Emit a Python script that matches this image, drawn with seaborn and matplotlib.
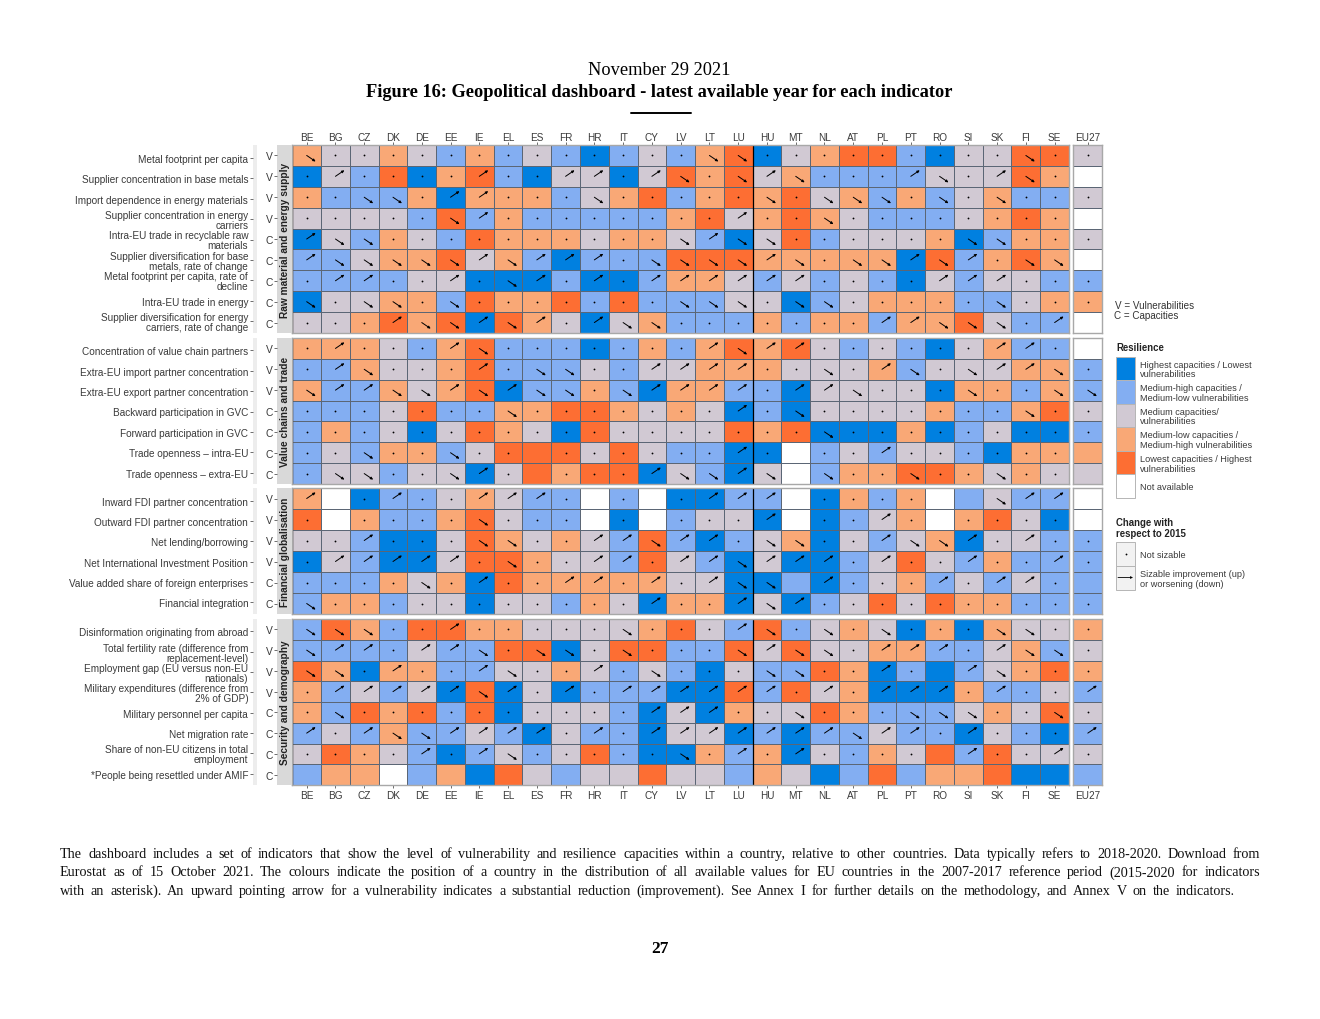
import pandas as pd
import matplotlib
matplotlib.use("Agg")
import matplotlib.pyplot as plt
from matplotlib.colors import ListedColormap
from matplotlib.patches import Rectangle
import seaborn as sns

W, H = 1320, 1020

countries = ["BE", "BG", "CZ", "DK", "DE", "EE", "IE", "EL", "ES", "FR", "HR", "IT", "CY", "LV",
             "LT", "LU", "HU", "MT", "NL", "AT", "PL", "PT", "RO", "SI", "SK", "FI", "SE", "EU27"]

# 0 not available, 1 dark blue ... 5 orange
# arrows: u up, d down, . not sizable, _ nothing drawn
raw_labels = ["Metal footprint per capita", "Supplier concentration in base metals",
              "Import dependence in energy materials", "Supplier concentration in energy\ncarriers",
              "Intra-EU trade in recyclable raw\nmaterials", "Supplier diversification for base\nmetals, rate of change",
              "Metal footprint per capita, rate of\ndecline", "Intra-EU trade in energy",
              "Supplier diversification for energy\ncarriers, rate of change"]
raw_types = ["V", "V", "V", "V", "C", "C", "C", "C", "C"]
raw_values = ["43343242321232 4513455213355 3",
              "13251452133135 4534222233354 0",
              "42224144423452 4545342423422 3",
              "33332524222224 5345432223454 0",
              "13243254443443 2135233341244 3",
              "22344534212225 5544444152454 0",
              "22223311121124 4323232132332 2",
              "13344254452522 2331234442234 4",
              "33454515431342 2242442445322 0"]
raw_arrows = ["d............. dd.........d. .",
              ".u....u..uu.ud .dud...ud.ud. _",
              "..dd.uu...d... ..d.ddd.d.d.. .",
              ".....du....... .u..d........ _",
              "udd..........d udd......dd.. .",
              "uddddduduuu.dd ddud.ddudu.dd _",
              ".uu..u.du.u.uu uuuu....uuu.. .",
              "d.dd.d.......d dd.dd.....d.. .",
              "...uddudu.udd. ......uuddd.u _"]

chain_labels = ["Concentration of value chain partners", "Extra-EU import partner concentration",
                "Extra-EU export partner concentration", "Backward participation in GVC",
                "Forward participation in GVC", "Trade openness \u2013 intra-EU", "Trade openness \u2013 extra-EU"]
chain_types = ["V", "V", "V", "C", "C", "C", "C"]
chain_values = ["44432452221242 4545323213422 0",
                "22433452223233 4443334233344 2",
                "42243451224214 4221333314424 2",
                "22235224455434 3121333342245 3",
                "24231354315333 3545111412311 2",
                "23244235553532 2110232332144 4",
                "23323313545513 2130244554343 3"]
chain_arrows = [".u...ud....... uduu......uu. _",
                ".ud...u.dd..uu uu..d.ud.duud .",
                "duuddududd.duu uu.uud...d..d d",
                ".......d...... .u.d.......d. .",
                ".............. ....d........ .",
                "..d..d.._..... .u._..u...... _",
                ".dd..du._...ud dud_d..d..d.. _"]

fin_labels = ["Inward FDI partner concentration", "Outward FDI partner concentration", "Net lending/borrowing",
              "Net International Investment Position", "Value added share of foreign enterprises",
              "Financial integration"]
fin_types = ["V", "V", "V", "V", "C", "C"]
fin_values = ["40122343220201 1220142402322 0",
              "50422453220102 3310123404531 0",
              "33211354343252 1234132341332 2",
              "13211355433253 2131123532422 2",
              "22243415444443 3112123423232 2",
              "24423313324314 4131235354422 2"]
fin_arrows = ["u_.u..uuu._._. uuu_....__duu _",
              "._....d..._._. ..u_..u._.... _",
              "..u...dd..uudu u.dd..uddu.u. .",
              ".uuuuu.d..uu.u uduuu.u..u..u .",
              "....d.u..uu.u. udd_u...u.uu. _",
              "d...........u. .udu......... ."]

sec_labels = ["Disinformation originating from abroad", "Total fertility rate (difference from\nreplacement-level)",
              "Employment gap (EU versus non-EU\nnationals)", "Military expenditures (difference from\n2% of GDP)",
              "Military personnel per capita", "Net migration rate", "Share of non-EU citizens in total\nemployment",
              "*People being resettled under AMIF"]
sec_types = ["V", "V", "V", "V", "C", "C", "C", "C"]
sec_values = ["25425544333345 3252343141433 4",
              "22223225513552 2535334422342 3",
              "54144223343232 1322541212345 4",
              "42323151312221 1525341114223 2",
              "42545251333213 1433542223435 3",
              "23242232132213 3121223221321 2",
              "35432123235211 4241324352533 3",
              "24402415323353 3243125244511 2"]
sec_arrows = ["ddd..u.....d.. .ud.d.d...dd. .",
              "duu.uud.dd.d.. .dudd.uuu.udd .",
              "dd.u..ud..u.d. ..dd..u._ud.. .",
              ".uuuuudu.u.uuu uuu.u.uuu.u.. u",
              ".d..........uu u..d...ddd..d .",
              "u.udduuuu.u.uu uuuuuduu.u... u",
              "....u.ud.....d .u.u...._u..u .",
              "______________ _____________ _"]

resilience_colors = ["#FFFFFF", "#0080E0", "#83AEF2", "#D1C9D3", "#F9A876", "#FD6E33"]
legend_labels = ["Highest capacities / Lowest\nvulnerabilities", "Medium-high capacities /\nMedium-low vulnerabilities",
                 "Medium capacities/\nvulnerabilities", "Medium-low capacities /\nMedium-high vulnerabilities",
                 "Lowest capacities / Highest\nvulnerabilities", "Not available"]

panels = [("Raw material and energy supply", raw_labels, raw_types, raw_values, raw_arrows, 146, 334),
          ("Value chains and trade", chain_labels, chain_types, chain_values, chain_arrows, 339, 485),
          ("Financial globalisation", fin_labels, fin_types, fin_values, fin_arrows, 489, 615),
          ("Security and demography", sec_labels, sec_types, sec_values, sec_arrows, 620, 786)]

sans = "Liberation Sans"
serif = "Liberation Serif"
tick_color = "#3a3a3a"
cmap = ListedColormap(resilience_colors)
label_step = 20.35  # the indicator names sit slightly tighter than the rows


def box(x0, y0, x1, y1):
    # pixel box, top-left origin, to figure fractions
    return [x0 / W, 1 - y1 / H, (x1 - x0) / W, (y1 - y0) / H]


def draw_arrows(ax, arrows):
    for r, row in enumerate(arrows):
        for c, a in enumerate(row):
            cx, cy = c + 0.5, r + 0.5
            if a == ".":
                ax.plot(cx, cy, "o", ms=1.3, mew=0, color="black")
            elif a in "ud":
                dy = -0.29 if a == "u" else 0.29
                ax.annotate("", xy=(cx + 0.31, cy + dy), xytext=(cx, cy),
                            arrowprops=dict(arrowstyle="-|>", lw=0.7, color="black",
                                            mutation_scale=3.5, shrinkA=0, shrinkB=0))


def heat(ax, values, arrows, labels):
    df = pd.DataFrame(values, columns=labels).astype(int)
    sns.heatmap(df, ax=ax, cmap=cmap, vmin=-0.5, vmax=5.5, cbar=False, linewidths=0.6,
                linecolor="#5b6675", xticklabels=False, yticklabels=False)
    for s in ax.spines.values():
        s.set_visible(True)
        s.set_color("#a8a8a8")
        s.set_linewidth(1.0)
    draw_arrows(ax, arrows)


sns.set_theme(style="white")
plt.rcParams["font.family"] = sans
fig = plt.figure(figsize=(W / 100, H / 100), dpi=100)

x0, x1 = 292.3, 1069
eu0, eu1 = 1073.3, 1102.3

for i, (name, labels, types, values, arrows, top, bottom) in enumerate(panels):
    vals = [list(v.replace(" ", "")) for v in values]
    arrs = [list(a.replace(" ", "")) for a in arrows]
    nrow = len(types)

    ax = fig.add_axes(box(x0, top, x1, bottom))
    heat(ax, [v[:27] for v in vals], [a[:27] for a in arrs], countries[:27])
    ax.axvline(0, color="black", lw=1.0)
    ax.axvline(16, color="black", lw=0.9)

    ax_eu = fig.add_axes(box(eu0, top, eu1, bottom))
    heat(ax_eu, [v[27:] for v in vals], [a[27:] for a in arrs], countries[27:])

    for a, names in ((ax, countries[:27]), (ax_eu, countries[27:])):
        if i == 0 or i == len(panels) - 1:
            a.set_xticks([k + 0.5 for k in range(len(names))])
            a.set_xticklabels(names, rotation=0)
            a.tick_params(axis="x", length=2, width=0.6, pad=-0.2 if i == 0 else 1.3, labelsize=7.2,
                          labelcolor=tick_color, bottom=i > 0, labelbottom=i > 0, top=i == 0, labeltop=i == 0,
                          color="#555555")

    # grey strip with the pillar name and the V / C ticks
    strip = fig.add_axes(box(277, top, x0, bottom))
    strip.set_facecolor("#D9D9D9")
    strip.set_xticks([])
    strip.set_ylim(nrow, 0)
    strip.set_yticks([k + 0.5 for k in range(nrow)])
    strip.set_yticklabels(types, fontsize=7.4, color=tick_color)
    strip.tick_params(axis="y", length=2.5, width=0.6, pad=0.5, left=True, color="#555555")
    for s in strip.spines.values():
        s.set_visible(False)
    strip.text(0.5, 0.5, name, transform=strip.transAxes, rotation=90, ha="center", va="center",
               fontsize=7.3, fontweight="bold", color="#222222")

    # thin light band carrying the indicator names, scaled in pixels
    band = fig.add_axes(box(253, top, 257, bottom))
    band.set_facecolor("#EDEDED")
    band.set_xticks([])
    band.set_ylim(bottom, top)
    mid = (top + bottom) / 2 + 0.5
    band.set_yticks([mid + (k - (nrow - 1) / 2) * label_step for k in range(nrow)])
    band.set_yticklabels(labels, fontsize=7.2, color=tick_color, linespacing=1.0, ha="right")
    band.tick_params(axis="y", length=2.5, width=0.6, pad=1.0, left=True, color="#555555")
    for s in band.spines.values():
        s.set_visible(False)

# page level text and legend, in pixel coordinates
page = fig.add_axes([0, 0, 1, 1], zorder=-1)
page.set_xlim(0, W)
page.set_ylim(H, 0)
page.axis("off")

page.text(659, 70.5, "November 29 2021", ha="center", va="center", family=serif, fontsize=13.2, color="black")
page.text(659, 92.5, "Figure 16: Geopolitical dashboard - latest available year for each indicator", ha="center",
          va="center", family=serif, fontsize=13.2, fontweight="bold", color="black")
page.plot([631, 691], [114, 114], color="black", lw=1.4)
page.text(660, 949.5, "27", ha="center", va="center", family=serif, fontsize=12.5, fontweight="bold", color="black")

# resilience legend
small = dict(ha="left", va="center", fontsize=6.55, color="#3a3a3a", linespacing=1.1)
page.text(1115, 306, "V = Vulnerabilities", ha="left", va="center", fontsize=7.1, color="#333333")
page.text(1114, 316.5, "C = Capacities", ha="left", va="center", fontsize=7.1, color="#333333")
page.text(1116, 348.5, "Resilience", ha="left", va="center", fontsize=6.9, fontweight="bold", color="#222222")
key_h = (499 - 357.7) / 6
for k, lab in enumerate(legend_labels):
    y = 357.7 + k * key_h
    colour = resilience_colors[(k + 1) % 6]
    page.add_patch(Rectangle((1116, y), 19, key_h, facecolor=colour, edgecolor="#b5b5b5", lw=0.7))
    page.text(1140, y + key_h / 2 + 0.5, lab, **small)

page.text(1116, 528.5, "Change with\nrespect to 2015", ha="left", va="center", fontsize=6.9, fontweight="bold",
          color="#222222", linespacing=1.1)
for k, lab in enumerate(["Not sizable", "Sizable improvement (up)\nor worsening (down)"]):
    y = 543 + k * 23.8
    page.add_patch(Rectangle((1116, y), 19, 23.8, facecolor="#F2F2F2", edgecolor="#b5b5b5", lw=0.7))
    page.text(1140, y + 12.4, lab, **small)
page.plot(1125.5, 555, "o", ms=1.3, mew=0, color="black")
page.annotate("", xy=(1133, 578.5), xytext=(1118, 578.5),
              arrowprops=dict(arrowstyle="-|>", lw=0.6, color="black", mutation_scale=3, shrinkA=0, shrinkB=0))

# justified footnote
note_lines = ["The dashboard includes a set of indicators that show the level of vulnerability and resilience capacities within a country, relative to other countries. Data typically refers to 2018-2020. Download from",
              "Eurostat as of 15 October 2021. The colours indicate the position of a country in the distribution of all available values for EU countries in the 2007-2017 reference period (2015-2020 for indicators",
              "with an asterisk). An upward pointing arrow for a vulnerability indicates a substantial reduction (improvement). See Annex I for further details on the methodology, and Annex V on the indicators."]
note_ends = [1260, 1260, 1235]
note_y = [854.5, 873, 891.5]
renderer = fig.canvas.get_renderer()
for line, end, y in zip(note_lines, note_ends, note_y):
    words = []
    used = 0
    for w in line.split(" "):
        t = page.text(0, y, w, ha="left", va="center", family=serif, fontsize=10.2, color="#111111")
        wid = t.get_window_extent(renderer).width
        words.append((t, wid))
        used += wid
    gap = (end - 60 - used) / (len(words) - 1)
    pos = 60
    for t, wid in words:
        t.set_x(pos)
        pos += wid + gap

fig.savefig("out.png", dpi=100)
